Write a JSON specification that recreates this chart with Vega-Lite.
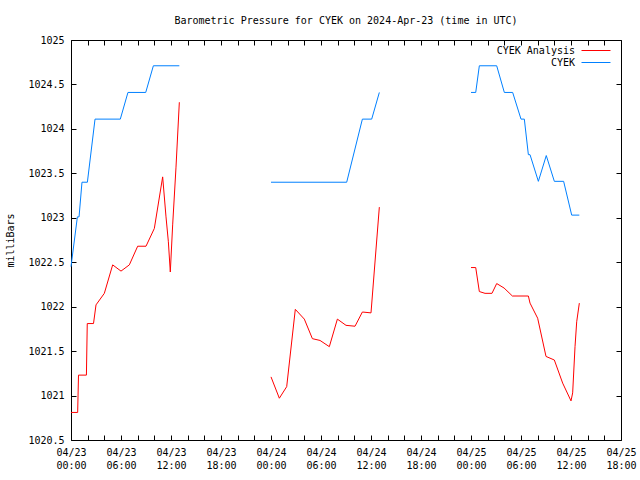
{
  "$schema": "https://vega.github.io/schema/vega-lite/v6.json",
  "autosize": {"type": "none"},
  "padding": {"left": 71, "top": 40, "right": 19, "bottom": 40},
  "width": 550,
  "height": 400,
  "background": "white",
  "title": {"text": "Barometric Pressure for CYEK on 2024-Apr-23 (time in UTC)", "font": "DejaVu Sans Mono", "fontSize": 10, "fontWeight": "normal", "color": "black", "anchor": "middle", "baseline": "alphabetic", "offset": 1},
  "config": {
    "view": {"stroke": "black", "strokeWidth": 1},
    "axis": {"grid": false, "domain": false, "labelFont": "DejaVu Sans Mono", "labelFontSize": 10, "labelColor": "black", "titleFont": "DejaVu Sans Mono", "titleFontSize": 10, "titleFontWeight": "normal", "titleColor": "black", "tickColor": "black", "tickWidth": 1},
    "legend": {"labelFont": "DejaVu Sans Mono", "labelFontSize": 10, "labelColor": "black"}
  },
  "data": {"values": [
    {"series": "CYEK Analysis", "time": "2024-04-23T00:00:00Z", "pressure": 1020.81},
    {"series": "CYEK Analysis", "time": "2024-04-23T00:48:00Z", "pressure": 1020.81},
    {"series": "CYEK Analysis", "time": "2024-04-23T00:54:00Z", "pressure": 1021.23},
    {"series": "CYEK Analysis", "time": "2024-04-23T01:51:00Z", "pressure": 1021.23},
    {"series": "CYEK Analysis", "time": "2024-04-23T01:57:00Z", "pressure": 1021.81},
    {"series": "CYEK Analysis", "time": "2024-04-23T02:42:00Z", "pressure": 1021.81},
    {"series": "CYEK Analysis", "time": "2024-04-23T03:00:00Z", "pressure": 1022.02},
    {"series": "CYEK Analysis", "time": "2024-04-23T04:00:00Z", "pressure": 1022.15},
    {"series": "CYEK Analysis", "time": "2024-04-23T05:00:00Z", "pressure": 1022.47},
    {"series": "CYEK Analysis", "time": "2024-04-23T06:00:00Z", "pressure": 1022.40},
    {"series": "CYEK Analysis", "time": "2024-04-23T07:00:00Z", "pressure": 1022.47},
    {"series": "CYEK Analysis", "time": "2024-04-23T08:00:00Z", "pressure": 1022.68},
    {"series": "CYEK Analysis", "time": "2024-04-23T09:00:00Z", "pressure": 1022.68},
    {"series": "CYEK Analysis", "time": "2024-04-23T10:00:00Z", "pressure": 1022.88},
    {"series": "CYEK Analysis", "time": "2024-04-23T11:00:00Z", "pressure": 1023.46},
    {"series": "CYEK Analysis", "time": "2024-04-23T11:24:00Z", "pressure": 1023.01},
    {"series": "CYEK Analysis", "time": "2024-04-23T11:41:00Z", "pressure": 1022.73},
    {"series": "CYEK Analysis", "time": "2024-04-23T11:55:00Z", "pressure": 1022.39},
    {"series": "CYEK Analysis", "time": "2024-04-23T12:12:00Z", "pressure": 1022.92},
    {"series": "CYEK Analysis", "time": "2024-04-23T12:36:00Z", "pressure": 1023.57},
    {"series": "CYEK Analysis", "time": "2024-04-23T13:00:00Z", "pressure": 1024.30},
    {"series": "CYEK Analysis", "time": "2024-04-24T00:00:00Z", "pressure": 1021.21},
    {"series": "CYEK Analysis", "time": "2024-04-24T01:00:00Z", "pressure": 1020.97},
    {"series": "CYEK Analysis", "time": "2024-04-24T01:53:00Z", "pressure": 1021.10},
    {"series": "CYEK Analysis", "time": "2024-04-24T02:55:00Z", "pressure": 1021.97},
    {"series": "CYEK Analysis", "time": "2024-04-24T04:00:00Z", "pressure": 1021.86},
    {"series": "CYEK Analysis", "time": "2024-04-24T04:58:00Z", "pressure": 1021.64},
    {"series": "CYEK Analysis", "time": "2024-04-24T05:53:00Z", "pressure": 1021.62},
    {"series": "CYEK Analysis", "time": "2024-04-24T07:00:00Z", "pressure": 1021.55},
    {"series": "CYEK Analysis", "time": "2024-04-24T07:58:00Z", "pressure": 1021.86},
    {"series": "CYEK Analysis", "time": "2024-04-24T09:00:00Z", "pressure": 1021.79},
    {"series": "CYEK Analysis", "time": "2024-04-24T10:05:00Z", "pressure": 1021.78},
    {"series": "CYEK Analysis", "time": "2024-04-24T10:58:00Z", "pressure": 1021.94},
    {"series": "CYEK Analysis", "time": "2024-04-24T12:00:00Z", "pressure": 1021.93},
    {"series": "CYEK Analysis", "time": "2024-04-24T13:00:00Z", "pressure": 1023.12},
    {"series": "CYEK Analysis", "time": "2024-04-25T00:00:00Z", "pressure": 1022.44},
    {"series": "CYEK Analysis", "time": "2024-04-25T00:34:00Z", "pressure": 1022.44},
    {"series": "CYEK Analysis", "time": "2024-04-25T01:00:00Z", "pressure": 1022.17},
    {"series": "CYEK Analysis", "time": "2024-04-25T01:41:00Z", "pressure": 1022.15},
    {"series": "CYEK Analysis", "time": "2024-04-25T02:31:00Z", "pressure": 1022.15},
    {"series": "CYEK Analysis", "time": "2024-04-25T03:05:00Z", "pressure": 1022.26},
    {"series": "CYEK Analysis", "time": "2024-04-25T03:58:00Z", "pressure": 1022.21},
    {"series": "CYEK Analysis", "time": "2024-04-25T04:58:00Z", "pressure": 1022.12},
    {"series": "CYEK Analysis", "time": "2024-04-25T06:53:00Z", "pressure": 1022.12},
    {"series": "CYEK Analysis", "time": "2024-04-25T07:05:00Z", "pressure": 1022.04},
    {"series": "CYEK Analysis", "time": "2024-04-25T08:00:00Z", "pressure": 1021.87},
    {"series": "CYEK Analysis", "time": "2024-04-25T09:00:00Z", "pressure": 1021.44},
    {"series": "CYEK Analysis", "time": "2024-04-25T10:00:00Z", "pressure": 1021.40},
    {"series": "CYEK Analysis", "time": "2024-04-25T11:00:00Z", "pressure": 1021.14},
    {"series": "CYEK Analysis", "time": "2024-04-25T12:00:00Z", "pressure": 1020.94},
    {"series": "CYEK Analysis", "time": "2024-04-25T12:12:00Z", "pressure": 1021.03},
    {"series": "CYEK Analysis", "time": "2024-04-25T12:29:00Z", "pressure": 1021.55},
    {"series": "CYEK Analysis", "time": "2024-04-25T12:41:00Z", "pressure": 1021.83},
    {"series": "CYEK Analysis", "time": "2024-04-25T13:00:00Z", "pressure": 1022.04},
    {"series": "CYEK", "time": "2024-04-23T00:00:00Z", "pressure": 1022.45},
    {"series": "CYEK", "time": "2024-04-23T00:46:00Z", "pressure": 1023.01},
    {"series": "CYEK", "time": "2024-04-23T00:58:00Z", "pressure": 1023.01},
    {"series": "CYEK", "time": "2024-04-23T01:19:00Z", "pressure": 1023.40},
    {"series": "CYEK", "time": "2024-04-23T01:58:00Z", "pressure": 1023.40},
    {"series": "CYEK", "time": "2024-04-23T02:53:00Z", "pressure": 1024.11},
    {"series": "CYEK", "time": "2024-04-23T05:55:00Z", "pressure": 1024.11},
    {"series": "CYEK", "time": "2024-04-23T06:50:00Z", "pressure": 1024.41},
    {"series": "CYEK", "time": "2024-04-23T08:58:00Z", "pressure": 1024.41},
    {"series": "CYEK", "time": "2024-04-23T09:53:00Z", "pressure": 1024.71},
    {"series": "CYEK", "time": "2024-04-23T13:00:00Z", "pressure": 1024.71},
    {"series": "CYEK", "time": "2024-04-24T00:00:00Z", "pressure": 1023.40},
    {"series": "CYEK", "time": "2024-04-24T09:05:00Z", "pressure": 1023.40},
    {"series": "CYEK", "time": "2024-04-24T10:58:00Z", "pressure": 1024.11},
    {"series": "CYEK", "time": "2024-04-24T12:05:00Z", "pressure": 1024.11},
    {"series": "CYEK", "time": "2024-04-24T13:00:00Z", "pressure": 1024.41},
    {"series": "CYEK", "time": "2024-04-25T00:00:00Z", "pressure": 1024.41},
    {"series": "CYEK", "time": "2024-04-25T00:34:00Z", "pressure": 1024.41},
    {"series": "CYEK", "time": "2024-04-25T01:00:00Z", "pressure": 1024.71},
    {"series": "CYEK", "time": "2024-04-25T03:05:00Z", "pressure": 1024.71},
    {"series": "CYEK", "time": "2024-04-25T04:00:00Z", "pressure": 1024.41},
    {"series": "CYEK", "time": "2024-04-25T05:00:00Z", "pressure": 1024.41},
    {"series": "CYEK", "time": "2024-04-25T06:00:00Z", "pressure": 1024.11},
    {"series": "CYEK", "time": "2024-04-25T06:24:00Z", "pressure": 1024.11},
    {"series": "CYEK", "time": "2024-04-25T06:53:00Z", "pressure": 1023.71},
    {"series": "CYEK", "time": "2024-04-25T07:05:00Z", "pressure": 1023.71},
    {"series": "CYEK", "time": "2024-04-25T08:05:00Z", "pressure": 1023.41},
    {"series": "CYEK", "time": "2024-04-25T09:02:00Z", "pressure": 1023.70},
    {"series": "CYEK", "time": "2024-04-25T10:00:00Z", "pressure": 1023.41},
    {"series": "CYEK", "time": "2024-04-25T11:07:00Z", "pressure": 1023.41},
    {"series": "CYEK", "time": "2024-04-25T12:05:00Z", "pressure": 1023.03},
    {"series": "CYEK", "time": "2024-04-25T13:00:00Z", "pressure": 1023.03}
  ]},
  "encoding": {
    "color": {
      "field": "series", "type": "nominal",
      "scale": {"domain": ["CYEK Analysis", "CYEK"], "range": ["#ff0000", "#0080ff"]},
      "legend": {"title": null, "orient": "none", "legendX": 425, "legendY": 3.5, "padding": 0, "symbolType": "M-2.23,0H2.23", "symbolSize": 169, "symbolStrokeWidth": 1, "rowPadding": 0, "labelAlign": "right", "labelOffset": -28, "symbolOffset": 93}
    },
    "detail": {"field": "time", "timeUnit": "utcmonthdate", "type": "ordinal"}
  },
  "layer": [
    {
      "transform": [{"filter": "datum.series == 'CYEK Analysis'"}],
      "mark": {"type": "line", "strokeWidth": 1},
      "encoding": {
        "x": {"field": "time", "type": "temporal",
          "scale": {"type": "utc", "domain": [1713830400000, 1714068000000]},
          "axis": {"orient": "bottom", "title": null,
            "values": [1713830400000, 1713837600000, 1713844800000, 1713852000000, 1713859200000, 1713866400000, 1713873600000, 1713880800000, 1713888000000, 1713895200000, 1713902400000, 1713909600000, 1713916800000, 1713924000000, 1713931200000, 1713938400000, 1713945600000, 1713952800000, 1713960000000, 1713967200000, 1713974400000, 1713981600000, 1713988800000, 1713996000000, 1714003200000, 1714010400000, 1714017600000, 1714024800000, 1714032000000, 1714039200000, 1714046400000, 1714053600000, 1714060800000, 1714068000000],
            "tickSize": -5, "labelPadding": 12, "labelOverlap": false, "labelFlush": false, "labelBound": false, "labelAlign": "center", "labelBaseline": "top", "labelLineHeight": 13,
            "labelExpr": "utchours(datum.value) % 6 == 0 ? [utcFormat(datum.value, '%m/%d'), utcFormat(datum.value, '%H:%M')] : ''",
            "encode": {"ticks": {"update": {"y2": {"signal": "utchours(datum.value) % 6 == 0 ? -5 : -3"}}}}}},
        "y": {"field": "pressure", "type": "quantitative",
          "scale": {"domain": [1020.5, 1025], "zero": false, "nice": false},
          "axis": {"orient": "left", "title": "milliBars", "titlePadding": 12, "values": [1020.5, 1021, 1021.5, 1022, 1022.5, 1023, 1023.5, 1024, 1024.5, 1025], "format": ".1~f", "tickSize": -5, "labelPadding": 12, "labelOverlap": false, "labelFlush": false}}
      }
    },
    {
      "transform": [{"filter": "datum.series == 'CYEK'"}],
      "mark": {"type": "line", "strokeWidth": 1},
      "encoding": {
        "x": {"field": "time", "type": "temporal",
          "scale": {"type": "utc", "domain": [1713830400000, 1714068000000]},
          "axis": {"orient": "top", "title": null, "labels": false,
            "values": [1713830400000, 1713837600000, 1713844800000, 1713852000000, 1713859200000, 1713866400000, 1713873600000, 1713880800000, 1713888000000, 1713895200000, 1713902400000, 1713909600000, 1713916800000, 1713924000000, 1713931200000, 1713938400000, 1713945600000, 1713952800000, 1713960000000, 1713967200000, 1713974400000, 1713981600000, 1713988800000, 1713996000000, 1714003200000, 1714010400000, 1714017600000, 1714024800000, 1714032000000, 1714039200000, 1714046400000, 1714053600000, 1714060800000, 1714068000000],
            "tickSize": -5,
            "encode": {"ticks": {"update": {"y2": {"signal": "utchours(datum.value) % 6 == 0 ? 5 : 3"}}}}}},
        "y": {"field": "pressure", "type": "quantitative",
          "scale": {"domain": [1020.5, 1025], "zero": false, "nice": false},
          "axis": {"orient": "right", "title": null, "labels": false, "values": [1020.5, 1021, 1021.5, 1022, 1022.5, 1023, 1023.5, 1024, 1024.5, 1025], "tickSize": -5}}
      }
    }
  ],
  "resolve": {"axis": {"x": "independent", "y": "independent"}}
}
